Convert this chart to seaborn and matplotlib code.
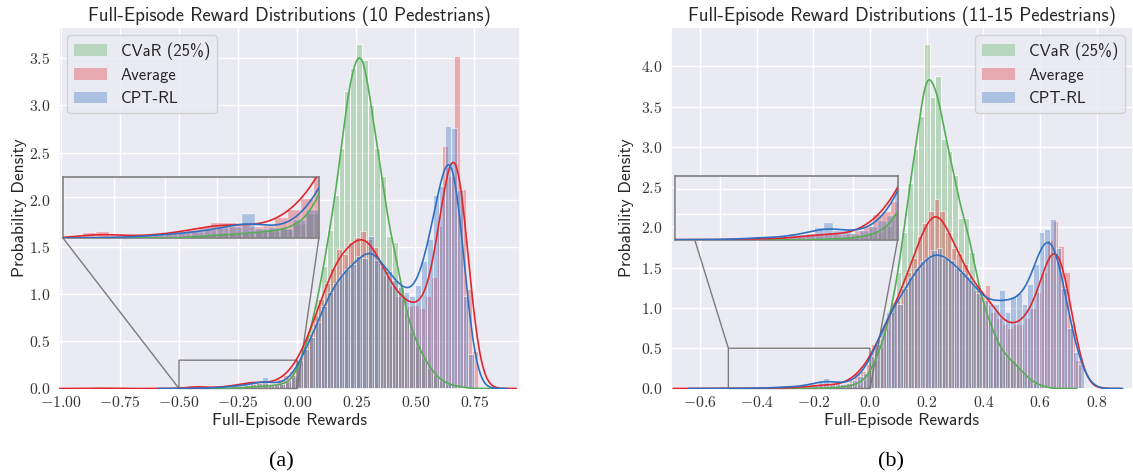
import numpy as np
import matplotlib
matplotlib.use("Agg")
import matplotlib.pyplot as plt
import seaborn as sns
from matplotlib.patches import Patch
from matplotlib.ticker import MultipleLocator, FuncFormatter, FixedLocator

# ---------------- data ----------------
series_labels = ["CVaR (25%)", "Average", "CPT-RL"]
series_colors = ["#55ae55", "#e2262c", "#2f70c2"]

panel_titles = ["Full-Episode Reward Distributions (10 Pedestrians)",
                "Full-Episode Reward Distributions (11-15 Pedestrians)"]
panel_captions = ["(a)", "(b)"]
x_label = "Full-Episode Rewards"
y_label = "Probability Density"

# Panel (a): 10 pedestrians -- histogram bin heights (density), bin width 0.025
a_bin_width = 0.025
a_cvar_start = -0.25
a_cvar = [0.01, 0.012, 0.015, 0.02, 0.025, 0.03, 0.035, 0.045, 0.07, 0.12,
          0.28, 0.45, 0.68, 0.95, 1.30, 1.68, 2.05, 2.55, 3.15, 3.40,
          3.65, 3.48, 3.00, 2.55, 2.25, 1.62, 1.55, 1.10, 0.80, 0.60,
          0.45, 0.32, 0.22, 0.14, 0.08, 0.05, 0.03, 0.02, 0.01]
a_avg_start = -0.86
a_avg = [0.008, 0.006, 0, 0, 0, 0, 0, 0, 0, 0, 0, 0, 0, 0, 0, 0,
         0.025, 0.032, 0.010, 0.008, 0.010, 0.015, 0.020, 0.030, 0.040, 0.055,
         0.073, 0.073, 0.060, 0.057, 0.060, 0.097, 0.140, 0.190,
         0.30, 0.42, 0.58, 0.78, 0.95, 1.12, 1.28, 1.48, 1.42, 1.55,
         1.60, 1.67, 1.58, 1.50, 1.33, 1.20, 1.10, 0.98, 0.95, 0.87,
         0.88, 0.85, 0.98, 1.18, 1.72, 2.57, 2.25, 3.52, 2.11, 1.05, 0.40]
a_cpt_start = -0.45
a_cpt = [0.005, 0, 0.005, 0.005, 0.01, 0.015, 0.02, 0.025, 0.03, 0.04,
         0.05, 0.055, 0.12, 0.045, 0.05, 0.045, 0.09, 0.14,
         0.30, 0.42, 0.55, 0.70, 0.87, 1.02, 1.12, 1.20, 1.27, 1.32,
         1.40, 1.38, 1.62, 1.36, 1.30, 1.25, 1.15, 1.08, 1.02, 0.98,
         1.10, 1.35, 1.58, 2.05, 2.15, 2.78, 2.76, 2.10, 0.98, 0.37]
a_xticks = [-1.0, -0.75, -0.5, -0.25, 0.0, 0.25, 0.5, 0.75]
a_yticks = [0.0, 0.5, 1.0, 1.5, 2.0, 2.5, 3.0, 3.5]
a_zoom_x = [-0.5, 0.0]
a_zoom_y = [0.0, 0.3]

# Panel (b): 11-15 pedestrians -- bin width 0.02
b_bin_width = 0.02
b_cvar_start = -0.19
b_cvar = [0.005, 0.005, 0.008, 0.01, 0.015, 0.025, 0.04, 0.06, 0.10, 0.20,
          0.35, 0.52, 0.75, 1.05, 1.45, 1.95, 2.55, 2.98, 3.38, 4.28,
          3.62, 3.88, 3.10, 2.95, 2.65, 2.12, 2.12, 1.70, 1.30, 1.05,
          0.85, 0.65, 0.50, 0.40, 0.35, 0.28, 0.20, 0.12, 0.07, 0.04, 0.02]
b_avg_start = -0.555
b_avg = [0.006, 0, 0, 0.010, 0, 0, 0, 0.005,
         0.004, 0.005, 0.006, 0.008, 0.008, 0.010, 0.012,
         0.015, 0.02, 0.03, 0.04, 0.05, 0.045, 0.04, 0.05, 0.07, 0.10,
         0.197, 0.22, 0.30,
         0.55, 0.62, 0.78, 0.95, 1.10, 1.25, 1.45, 1.62, 1.90, 2.05,
         2.20, 2.35, 2.20, 1.95, 1.75, 1.68, 1.55, 1.35, 1.22, 1.15,
         1.28, 0.95, 0.88, 0.80, 0.75, 0.80, 0.80, 0.88, 1.00, 1.20,
         1.45, 1.85, 2.08, 1.77, 1.45, 0.80, 0.35]
b_cpt_start = -0.505
b_cpt = [0.005, 0, 0, 0, 0.008, 0, 0.005, 0.006,
         0.01, 0.026, 0.015, 0.015, 0.02, 0.045, 0.04, 0.05, 0.097,
         0.134, 0.07, 0.07, 0.05, 0.07, 0.10, 0.15, 0.19,
         0.40, 0.55, 0.75, 0.95, 1.08, 1.05, 1.25, 1.38, 1.50, 1.58,
         1.62, 1.72, 1.75, 1.62, 1.60, 1.50, 1.45, 1.40, 1.28, 1.18,
         1.10, 1.05, 1.05, 1.22, 0.95, 1.15, 1.18, 1.05, 1.30, 1.55,
         1.95, 1.98, 2.11, 1.75, 1.25, 0.75, 0.45, 0.30]
b_xticks = [-0.6, -0.4, -0.2, 0.0, 0.2, 0.4, 0.6, 0.8]
b_yticks = [0.0, 0.5, 1.0, 1.5, 2.0, 2.5, 3.0, 3.5, 4.0]
b_zoom_x = [-0.5, 0.0]
b_zoom_y = [0.0, 0.5]

# ---------------- style ----------------
sns.set_theme(style="darkgrid")
plt.rcParams["font.family"] = ["cmss10", "DejaVu Sans"]
plt.rcParams["mathtext.fontset"] = "cm"
plt.rcParams["axes.unicode_minus"] = False

BAR_ALPHA = 0.33
BW_ADJUST = 0.32
TITLE_FS = 13.6
LABEL_FS = 12.5
TICK_FS = 11.3

fig = plt.figure(figsize=(11.33, 4.74), dpi=100)

panels = [
    dict(width=a_bin_width,
         series=[(a_cvar_start, a_cvar), (a_avg_start, a_avg), (a_cpt_start, a_cpt)],
         xticks=a_xticks, yticks=a_yticks, xfmt="{:.2f}", yfmt="{:.1f}",
         xlim=(-1.008, 0.943), ylim=(0, 3.83),
         zoom_x=a_zoom_x, zoom_y=a_zoom_y,
         rect=[59 / 1133, 85.5 / 474, 461 / 1133, 361.5 / 474],
         inset=[0.0087, 0.416, 0.555, 0.169], ylabelpad=0.8,
         legend_loc="upper left", caption_x=281 / 1133),
    dict(width=b_bin_width,
         series=[(b_cvar_start, b_cvar), (b_avg_start, b_avg), (b_cpt_start, b_cpt)],
         xticks=b_xticks, yticks=b_yticks, xfmt="{:.1f}", yfmt="{:.1f}",
         xlim=(-0.7024, 0.928), ylim=(0, 4.49),
         zoom_x=b_zoom_x, zoom_y=b_zoom_y,
         rect=[671 / 1133, 85.5 / 474, 462 / 1133, 361.5 / 474],
         inset=[0.0086, 0.411, 0.482, 0.177], ylabelpad=4.5,
         legend_loc="upper right", caption_x=891 / 1133),
]


def draw_series(ax, start, heights, width, color, z):
    h = np.asarray(heights, dtype=float)
    edges = start + width * np.arange(len(h) + 1)
    centers = edges[:-1] + width / 2
    keep = h > 0
    sns.histplot(x=centers[keep], weights=h[keep], bins=[float(e) for e in edges],
                 stat="count", kde=True, color=color, alpha=BAR_ALPHA,
                 kde_kws=dict(bw_adjust=BW_ADJUST, cut=3, gridsize=400),
                 line_kws=dict(linewidth=1.2, zorder=z), ax=ax)


for i, p in enumerate(panels):
    ax = fig.add_axes(p["rect"])
    for (start, heights), color, z in zip(p["series"], series_colors, (5, 6, 7)):
        draw_series(ax, start, heights, p["width"], color, z)
    ax.set_xlim(*p["xlim"])
    ax.set_ylim(*p["ylim"])
    ax.xaxis.set_major_locator(FixedLocator(p["xticks"]))
    ax.yaxis.set_major_locator(FixedLocator(p["yticks"]))
    xf, yf = p["xfmt"], p["yfmt"]
    ax.xaxis.set_major_formatter(FuncFormatter(lambda v, pos, f=xf: "$" + f.format(v) + "$"))
    ax.yaxis.set_major_formatter(FuncFormatter(lambda v, pos, f=yf: "$" + f.format(v) + "$"))
    ax.tick_params(axis="x", labelsize=TICK_FS, colors="#333333", length=0, pad=5)
    ax.tick_params(axis="y", labelsize=TICK_FS, colors="#333333", length=0, pad=6.5)
    ax.set_xlabel(x_label, fontsize=LABEL_FS, labelpad=2)
    ax.set_ylabel(y_label, fontsize=LABEL_FS, labelpad=p["ylabelpad"])
    ax.set_title(panel_titles[i], fontsize=TITLE_FS, pad=4)

    handles = [Patch(facecolor=c, alpha=BAR_ALPHA, edgecolor="none") for c in series_colors]
    ax.legend(handles, series_labels, loc=p["legend_loc"], fontsize=12)

    # zoomed inset
    axins = ax.inset_axes(p["inset"])
    for (start, heights), color, z in zip(p["series"], series_colors, (5, 6, 7)):
        draw_series(axins, start, heights, p["width"], color, z)
    axins.set_xlim(*p["zoom_x"])
    axins.set_ylim(*p["zoom_y"])
    axins.xaxis.set_major_locator(MultipleLocator(0.1))
    axins.yaxis.set_major_locator(MultipleLocator(0.2))
    axins.tick_params(labelbottom=False, labelleft=False, length=0)
    axins.set_xlabel("")
    axins.set_ylabel("")
    for sp in axins.spines.values():
        sp.set_visible(True)
        sp.set_edgecolor("#808080")
        sp.set_linewidth(1.2)
    ax.indicate_inset_zoom(axins, edgecolor="#707070", linewidth=1.0, alpha=0.9)

    fig.text(p["caption_x"], 12 / 474, panel_captions[i], ha="center", va="center",
             fontsize=16, family=["Liberation Serif", "DejaVu Serif"], color="black")

fig.savefig("out.png", dpi=100)
